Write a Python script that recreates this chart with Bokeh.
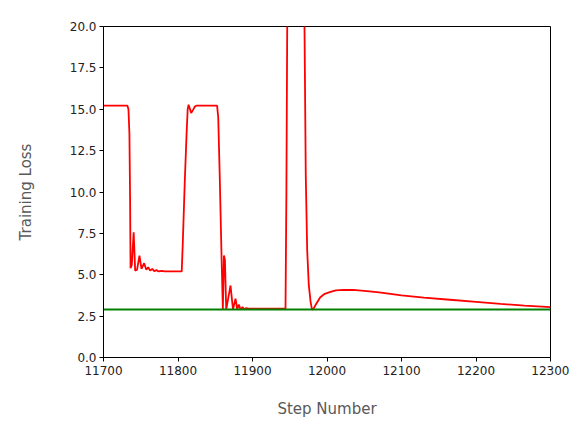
from bokeh.plotting import figure
from bokeh.models import FixedTicker, Range1d
from bokeh.embed import file_html
from bokeh.resources import INLINE

# ---- data ----
steps = [11700, 11732, 11733.5, 11734.8, 11735.7, 11736.3, 11738, 11740.5, 11742.5, 11745,
         11748.3, 11751, 11754.5, 11757.5, 11760, 11762.5, 11765.5, 11768, 11771, 11774,
         11778, 11782, 11805, 11806.5, 11809, 11811.5, 11813, 11814.2, 11815.8, 11817.7,
         11820, 11822.5, 11824.5, 11852.5, 11854, 11856, 11858.5, 11860.2, 11861.7, 11863,
         11864.7, 11867.5, 11870.5, 11873.8, 11877.2, 11879.5, 11881.6, 11884, 11886.6,
         11888.6, 11891, 11895, 11944.3, 11945.5, 11946.6, 11948, 11955, 11962, 11968,
         11969.8, 11971.5, 11973.4, 11975.5, 11978, 11980, 11982, 11985, 11991, 11997,
         12004.7, 12012, 12022, 12035, 12050, 12070, 12100, 12130, 12165, 12200, 12233,
         12265, 12300]
loss = [15.22, 15.22, 15.0, 13.5, 9.5, 5.4, 5.6, 7.57, 5.25, 5.3,
        6.16, 5.35, 5.7, 5.3, 5.45, 5.25, 5.35, 5.22, 5.28, 5.2,
        5.24, 5.2, 5.2, 7.0, 10.5, 13.5, 15.0, 15.27, 15.05, 14.77,
        14.95, 15.15, 15.22, 15.22, 14.5, 11.0, 6.0, 2.9, 6.16, 5.9,
        2.9, 3.6, 4.35, 2.9, 3.56, 2.9, 3.2, 2.9, 3.05,
        2.92, 2.98, 2.95, 2.95, 10.0, 20.0, 40.0, 90.0, 80.0, 30.0,
        20.0, 11.0, 6.5, 4.4, 3.35, 2.88, 2.95, 3.2, 3.64, 3.85,
        3.97, 4.05, 4.09, 4.08, 4.02, 3.93, 3.76, 3.62, 3.49, 3.36, 3.24,
        3.13, 3.04]

baseline_steps = [11700, 12300]
baseline_loss = [2.9, 2.9]

x_ticks = [11700, 11800, 11900, 12000, 12100, 12200, 12300]
x_tick_labels = ["11700", "11800", "11900", "12000", "12100", "12200", "12300"]
y_ticks = [0, 2.5, 5, 7.5, 10, 12.5, 15, 17.5, 20]
y_tick_labels = ["0.0", "2.5", "5.0", "7.5", "10.0", "12.5", "15.0", "17.5", "20.0"]

p = figure(width=569, height=420, output_backend="svg", toolbar_location=None,
           x_range=Range1d(11700, 12300), y_range=Range1d(0, 20),
           min_border_left=103, min_border_right=19, min_border_top=26, min_border_bottom=63)

p.line(steps, loss, line_color="#ff0000", line_width=1.8)
p.line(baseline_steps, baseline_loss, line_color="#008000", line_width=1.8)

p.xgrid.visible = False
p.ygrid.visible = False
p.outline_line_color = "black"
p.outline_line_width = 1
p.background_fill_color = "white"
p.border_fill_color = "white"

p.xaxis.ticker = FixedTicker(ticks=x_ticks)
p.xaxis.major_label_overrides = dict(zip(x_ticks, x_tick_labels))
p.yaxis.ticker = FixedTicker(ticks=y_ticks)
p.yaxis.major_label_overrides = dict(zip(y_ticks, y_tick_labels))

for ax in (p.xaxis[0], p.yaxis[0]):
    ax.minor_tick_line_color = None
    ax.major_tick_in = 0
    ax.major_tick_out = 4
    ax.axis_line_color = "black"
    ax.major_tick_line_color = "black"
    ax.major_label_text_font = "DejaVu Sans"
    ax.major_label_text_font_size = "12px"
    ax.major_label_text_color = "#222222"
    ax.axis_label_text_font = "DejaVu Sans"
    ax.axis_label_text_font_size = "15px"
    ax.axis_label_text_font_style = "normal"
    ax.axis_label_text_color = "#595959"

p.xaxis.axis_label = "Step Number"
p.yaxis.axis_label = "Training Loss"
p.xaxis.major_label_standoff = 4
p.yaxis.major_label_standoff = 3
p.xaxis.axis_label_standoff = 22
p.yaxis.axis_label_standoff = 32

open("out.html", "w").write(file_html(p, INLINE))
